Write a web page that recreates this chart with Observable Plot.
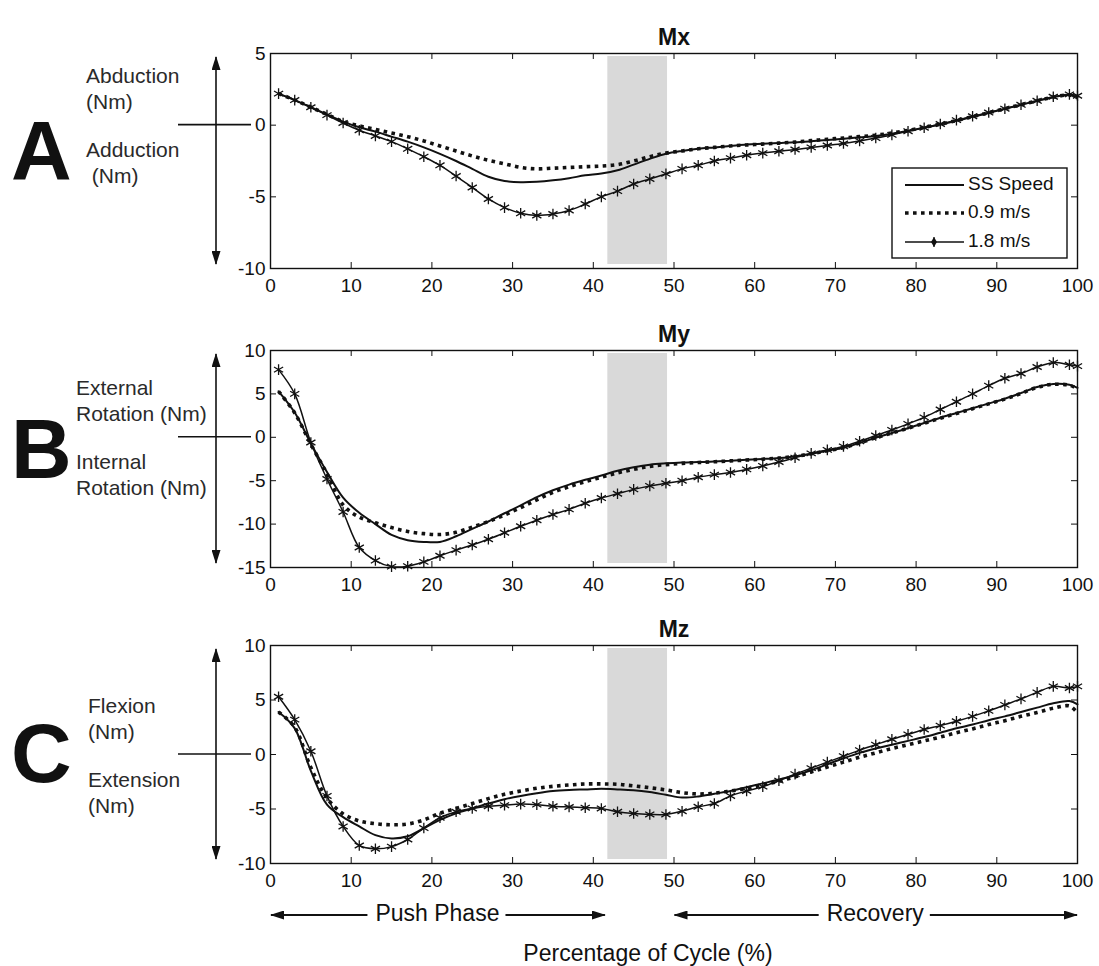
<!DOCTYPE html>
<html><head><meta charset="utf-8">
<script src="https://cdn.jsdelivr.net/npm/d3@7"></script>
<script src="https://cdn.jsdelivr.net/npm/@observablehq/plot@0.6"></script>
<style>
body{margin:0;background:#fff;}
#chart{width:1099px;height:966px;position:relative;}
#chart svg{display:block;}
</style></head><body><div id="chart"></div>
<script>
// ---------- data ----------
const pct = [1,3,5,7,9,11,13,15,17,19,21,23,25,27,29,31,33,35,37,39,41,43,45,47,49,51,53,55,57,59,61,63,65,67,69,71,73,75,77,79,81,83,85,87,89,91,93,95,97,99,100];
const seriesNames = ["SS Speed", "0.9 m/s", "1.8 m/s"];

const mxSS = [2.2,1.75,1.25,0.75,0.25,-0.15,-0.45,-0.8,-1.15,-1.55,-2.0,-2.5,-3.05,-3.6,-3.9,-3.98,-3.95,-3.85,-3.7,-3.5,-3.38,-3.15,-2.75,-2.35,-2.0,-1.8,-1.65,-1.55,-1.45,-1.35,-1.3,-1.25,-1.2,-1.12,-1.03,-0.95,-0.85,-0.75,-0.6,-0.4,-0.18,0.05,0.3,0.58,0.85,1.15,1.42,1.7,1.95,2.1,1.95];
const mx09 = [2.2,1.75,1.25,0.75,0.25,-0.05,-0.3,-0.55,-0.8,-1.1,-1.45,-1.8,-2.15,-2.45,-2.7,-2.95,-3.05,-3.0,-2.95,-2.9,-2.85,-2.75,-2.5,-2.2,-1.95,-1.8,-1.65,-1.55,-1.45,-1.38,-1.32,-1.25,-1.18,-1.08,-0.98,-0.9,-0.8,-0.7,-0.55,-0.37,-0.15,0.07,0.32,0.6,0.87,1.15,1.43,1.7,1.95,2.1,1.9];
const mx18 = [2.2,1.75,1.25,0.7,0.15,-0.35,-0.75,-1.15,-1.65,-2.2,-2.8,-3.55,-4.35,-5.15,-5.75,-6.15,-6.3,-6.2,-5.95,-5.5,-5.0,-4.6,-4.1,-3.75,-3.4,-3.05,-2.8,-2.5,-2.3,-2.1,-1.95,-1.82,-1.7,-1.55,-1.42,-1.28,-1.1,-0.9,-0.68,-0.42,-0.18,0.08,0.35,0.62,0.88,1.15,1.42,1.7,1.98,2.15,2.05];

const mySS = [5.3,2.85,-0.7,-4.0,-6.95,-8.7,-10.0,-11.25,-11.85,-12.05,-12.05,-11.4,-10.55,-9.7,-8.75,-7.85,-6.9,-6.1,-5.45,-4.9,-4.4,-3.85,-3.45,-3.15,-3.0,-2.9,-2.85,-2.8,-2.7,-2.6,-2.5,-2.38,-2.2,-1.9,-1.55,-1.2,-0.65,-0.05,0.5,1.05,1.65,2.25,2.8,3.35,3.9,4.45,5.1,5.8,6.15,6.05,5.7];
const my09 = [5.3,2.8,-0.8,-4.2,-7.8,-9.2,-9.85,-10.4,-10.85,-11.1,-11.2,-10.95,-10.35,-9.7,-8.95,-8.1,-7.2,-6.35,-5.7,-5.1,-4.6,-4.1,-3.7,-3.35,-3.15,-3.0,-2.9,-2.82,-2.72,-2.62,-2.52,-2.4,-2.2,-1.9,-1.55,-1.2,-0.65,-0.05,0.5,1.05,1.62,2.2,2.75,3.3,3.85,4.4,5.05,5.75,6.1,6.0,5.6];
const my18 = [7.8,5.0,-0.6,-4.8,-8.6,-12.7,-14.2,-14.9,-14.85,-14.35,-13.65,-13.0,-12.4,-11.75,-11.0,-10.25,-9.55,-8.9,-8.3,-7.6,-7.0,-6.5,-6.0,-5.6,-5.3,-5.0,-4.6,-4.3,-4.05,-3.7,-3.3,-2.85,-2.35,-1.85,-1.45,-1.05,-0.45,0.2,0.85,1.55,2.3,3.2,4.1,5.0,5.95,6.8,7.35,8.1,8.6,8.35,8.2];

const mzSS = [3.9,2.4,-1.5,-4.6,-5.75,-6.6,-7.4,-7.7,-7.5,-6.75,-6.0,-5.4,-4.95,-4.5,-4.1,-3.8,-3.55,-3.35,-3.25,-3.2,-3.15,-3.2,-3.28,-3.45,-3.7,-3.95,-3.85,-3.6,-3.35,-3.0,-2.65,-2.3,-1.9,-1.45,-0.9,-0.35,0.15,0.55,0.9,1.25,1.6,2.0,2.4,2.75,3.15,3.5,3.9,4.3,4.7,4.9,4.6];
const mz09 = [3.9,2.5,-1.2,-4.0,-5.45,-6.1,-6.35,-6.45,-6.38,-6.0,-5.4,-4.95,-4.5,-4.05,-3.65,-3.35,-3.1,-2.92,-2.8,-2.7,-2.7,-2.73,-2.88,-3.05,-3.25,-3.5,-3.62,-3.55,-3.35,-3.1,-2.8,-2.45,-2.05,-1.6,-1.15,-0.7,-0.25,0.15,0.55,0.9,1.25,1.6,2.0,2.35,2.75,3.1,3.5,3.85,4.25,4.45,3.8];
const mz18 = [5.3,3.2,0.3,-3.8,-6.6,-8.35,-8.65,-8.45,-7.8,-6.75,-5.8,-5.25,-4.95,-4.75,-4.65,-4.55,-4.6,-4.75,-4.82,-4.88,-4.95,-5.25,-5.42,-5.5,-5.5,-5.2,-4.8,-4.5,-3.8,-3.35,-2.95,-2.4,-1.8,-1.25,-0.7,-0.15,0.4,0.9,1.4,1.85,2.3,2.65,3.05,3.5,4.0,4.55,5.1,5.7,6.25,6.1,6.25];

const xTicks = [0,10,20,30,40,50,60,70,80,90,100];
const bandRange = [41.8, 49.2];
const panelTitles = ["Mx", "My", "Mz"];
const panelLetters = ["A", "B", "C"];
const yDomains = [[-10, 5], [-15, 10], [-10, 10]];
const yTickSets = [[-10, -5, 0, 5], [-15, -10, -5, 0, 5, 10], [-10, -5, 0, 5, 10]];
const positiveLabels = [["Abduction", "(Nm)"], ["External", "Rotation (Nm)"], ["Flexion", "(Nm)"]];
const negativeLabels = [["Adduction", " (Nm)"], ["Internal", "Rotation (Nm)"], ["Extension", "(Nm)"]];
const panelSeries = [[mxSS, mx09, mx18], [mySS, my09, my18], [mzSS, mz09, mz18]];
const phaseLabels = ["Push Phase", "Recovery"];
const phaseStart = [0, 50];
const phaseEnd = [41.5, 100];
const xLabel = "Percentage of Cycle (%)";

// ---------- layout ----------
const FONT = "'Liberation Sans', Arial, Helvetica, sans-serif";
const W = 1099, ML = 270, MR = 22, FW = W - ML - MR;
const layouts = [
  {height: 300, top: 53, bottom: 32, letterY: 180, textX: 86},
  {height: 300, top: 50, bottom: 33, letterY: 178, textX: 76},
  {height: 366, top: 45, bottom: 103, letterY: 182, textX: 88}
];
const INK = "#111";
const container = document.getElementById("chart");
const fmt = d => `${d}`;

panelTitles.forEach((title, p) => {
  const L = layouts[p];
  const fh = L.height - L.top - L.bottom;
  const rows = pct.flatMap((x, i) => seriesNames.map((s, k) => ({x, y: panelSeries[p][k][i], s})));
  const byS = s => rows.filter(r => r.s === s);
  const yTicks = yTickSets[p];

  const plot = Plot.plot({
    width: W, height: L.height,
    marginLeft: ML, marginRight: MR, marginTop: L.top, marginBottom: L.bottom,
    x: {domain: [0, 100], label: null},
    y: {domain: yDomains[p], label: null},
    style: {fontFamily: FONT, fontSize: "19px", color: INK, background: "transparent", overflow: "visible"},
    marks: [
      Plot.rect([bandRange], {x1: d => d[0], x2: d => d[1], fill: "#d9d9d9", insetTop: 3, insetBottom: 4}),
      Plot.line(byS("SS Speed"), {x: "x", y: "y", stroke: INK, strokeWidth: 2, curve: "catmull-rom"}),
      Plot.line(byS("0.9 m/s"), {x: "x", y: "y", stroke: INK, strokeWidth: 3.6, strokeDasharray: "3.6,4.4", strokeLinecap: "butt", curve: "catmull-rom"}),
      Plot.line(byS("1.8 m/s"), {x: "x", y: "y", stroke: INK, strokeWidth: 1.5, curve: "catmull-rom"}),
      Plot.dot(byS("1.8 m/s"), {x: "x", y: "y", symbol: "asterisk", r: 5, stroke: INK, strokeWidth: 1.3}),
      Plot.ruleX(xTicks, {x: d => d, insetTop: fh - 6, stroke: INK}),
      Plot.ruleX(xTicks, {x: d => d, insetBottom: fh - 6, stroke: INK}),
      Plot.ruleY(yTicks, {y: d => d, insetRight: FW - 6, stroke: INK}),
      Plot.ruleY(yTicks, {y: d => d, insetLeft: FW - 6, stroke: INK}),
      Plot.frame({stroke: INK, strokeWidth: 1.4}),
      Plot.axisX(xTicks, {anchor: "bottom", tickSize: 0, tickPadding: 10, fontSize: 19, label: null, tickFormat: fmt}),
      Plot.axisY(yTicks, {anchor: "left", tickSize: 0, tickPadding: 5, fontSize: 19, label: null, tickFormat: fmt}),
      Plot.text([title], {text: d => d, frameAnchor: "top", dy: -25, fontSize: 23, fontWeight: "bold", fill: INK})
    ]
  });
  container.appendChild(plot);

  const svg = d3.select(plot);
  const xs = plot.scale("x"), ys = plot.scale("y");
  const y0 = ys.apply(0);
  const top = L.top, bot = L.height - L.bottom;
  const id = "ah" + p;
  svg.append("defs").append("marker")
    .attr("id", id).attr("markerUnits", "userSpaceOnUse")
    .attr("viewBox", "0 0 14 9").attr("refX", 13).attr("refY", 4.5)
    .attr("markerWidth", 14).attr("markerHeight", 9).attr("orient", "auto-start-reverse")
    .append("path").attr("d", "M0,0L14,4.5L0,9Z").attr("fill", INK);

  const g = svg.append("g").attr("font-family", FONT).attr("fill", INK).attr("text-anchor", "start");
  // big panel letter
  g.append("text").attr("x", 11).attr("y", L.letterY).attr("font-size", 84).attr("font-weight", "bold")
    .attr("text-anchor", "start").text(panelLetters[p]);
  // vertical double arrow
  g.append("line").attr("x1", 216).attr("x2", 216).attr("y1", top + 4).attr("y2", bot - 4)
    .attr("stroke", INK).attr("stroke-width", 1.6)
    .attr("marker-start", `url(#${id})`).attr("marker-end", `url(#${id})`);
  // zero line
  g.append("line").attr("x1", 178).attr("x2", 251).attr("y1", y0).attr("y2", y0)
    .attr("stroke", INK).attr("stroke-width", 1.6);
  // direction labels
  positiveLabels[p].forEach((t, i) => {
    g.append("text").attr("x", L.textX).attr("y", y0 - 47 + i * 26).attr("dominant-baseline", "middle")
      .attr("text-anchor", "start").attr("font-size", 21).attr("fill", "#2a2a2a").style("white-space", "pre").text(t);
  });
  negativeLabels[p].forEach((t, i) => {
    g.append("text").attr("x", L.textX).attr("y", y0 + 27 + i * 26).attr("dominant-baseline", "middle")
      .attr("text-anchor", "start").attr("font-size", 21).attr("fill", "#2a2a2a").style("white-space", "pre").text(t);
  });

  if (p === 0) {
    // legend
    const lg = svg.append("g").attr("font-family", FONT);
    lg.append("rect").attr("x", 892).attr("y", 168).attr("width", 175).attr("height", 90)
      .attr("fill", "white").attr("stroke", INK).attr("stroke-width", 1.4);
    const ly = [185, 213, 242];
    lg.append("line").attr("x1", 905).attr("x2", 964).attr("y1", ly[0]).attr("y2", ly[0]).attr("stroke", INK).attr("stroke-width", 2);
    lg.append("line").attr("x1", 905).attr("x2", 964).attr("y1", ly[1]).attr("y2", ly[1]).attr("stroke", INK)
      .attr("stroke-width", 3.6).attr("stroke-dasharray", "3.6,4.4");
    lg.append("line").attr("x1", 905).attr("x2", 964).attr("y1", ly[2]).attr("y2", ly[2]).attr("stroke", INK).attr("stroke-width", 1.3);
    lg.append("path").attr("transform", `translate(934,${ly[2]})`).attr("d", d3.symbol(d3.symbolDiamond, 30)()).attr("fill", INK);
    lg.append("line").attr("x1", 934).attr("x2", 934).attr("y1", ly[2] - 5).attr("y2", ly[2] + 5).attr("stroke", INK).attr("stroke-width", 1.2);
    seriesNames.forEach((s, i) => {
      lg.append("text").attr("x", 968).attr("y", ly[i]).attr("dominant-baseline", "middle").attr("text-anchor", "start")
        .attr("font-size", 19).attr("fill", INK).text(s);
    });
  }

  if (p === 2) {
    const pg = svg.append("g").attr("font-family", FONT);
    const py = 315;
    phaseLabels.forEach((lab, i) => {
      const a = xs.apply(phaseStart[i]), b = xs.apply(phaseEnd[i]);
      const mid = (a + b) / 2;
      const t = pg.append("text").attr("x", mid).attr("y", py).attr("text-anchor", "middle")
        .attr("dominant-baseline", "middle").attr("font-size", 23).attr("fill", INK).text(lab);
      const tw = t.node().getComputedTextLength();
      pg.append("line").attr("x1", mid - tw / 2 - 8).attr("x2", a + 1).attr("y1", py).attr("y2", py)
        .attr("stroke", INK).attr("stroke-width", 1.8).attr("marker-end", `url(#${id})`);
      pg.append("line").attr("x1", mid + tw / 2 + 6).attr("x2", b).attr("y1", py).attr("y2", py)
        .attr("stroke", INK).attr("stroke-width", 1.8).attr("marker-end", `url(#${id})`);
    });
    pg.append("text").attr("x", 648).attr("y", 355).attr("text-anchor", "middle").attr("dominant-baseline", "middle")
      .attr("font-size", 23).attr("fill", INK).text(xLabel);
  }
});
</script>
</body></html>
